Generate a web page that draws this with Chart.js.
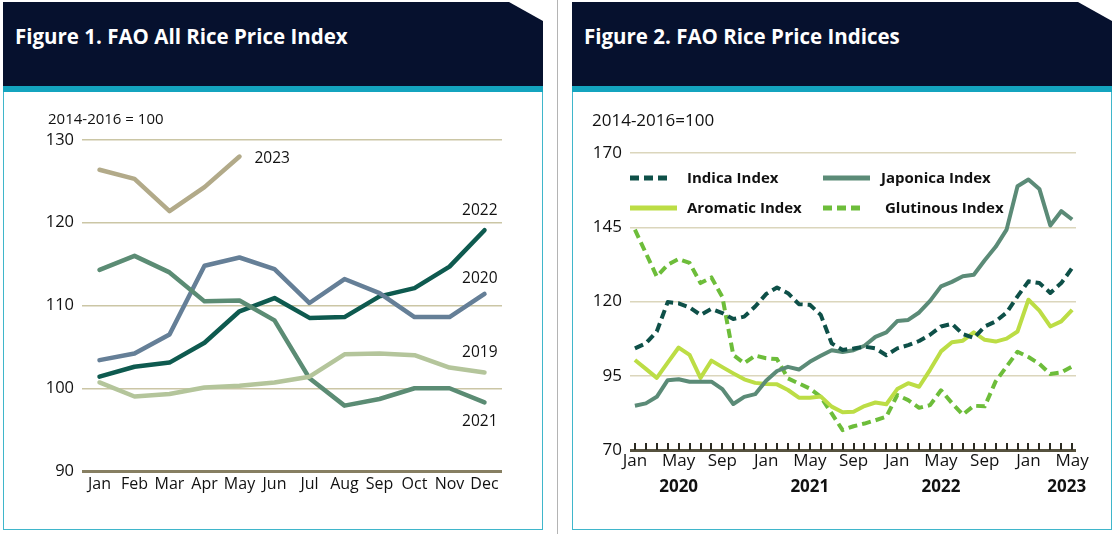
<!DOCTYPE html>
<html>
<head>
<meta charset="utf-8">
<script src="https://cdn.jsdelivr.net/npm/chart.js@4.4.1/dist/chart.umd.min.js"></script>
<style>
  body { margin: 0; width: 1115px; height: 534px; background: #fff; position: relative; overflow: hidden; font-family: 'Open Sans', sans-serif; color: #111; }
  .head { position: absolute; top: 2px; height: 84px; background: #06112e;
          clip-path: polygon(0 0, calc(100% - 34px) 0, 100% 19px, 100% 100%, 0 100%); }
  .head span { position: absolute; left: 12px; top: 20px; color: #fff; font-size: 20.5px; font-weight: 700; line-height: 28px; }
  .strip { position: absolute; top: 86px; height: 6px; background: #14a4bf; }
  .panel { position: absolute; top: 92px; height: 438px; border: 1.5px solid #3fb6cb; border-top: none; box-sizing: border-box; }
  .sep { position: absolute; left: 557px; top: 0; width: 1px; height: 534px; background: #b4b4b4; }
  .unit { position: absolute; line-height: 20px; white-space: nowrap; }
  canvas { position: absolute; }
</style>
</head>
<body>
<div class="head" style="left:3px;width:540px"><span>Figure 1. FAO All Rice Price Index</span></div>
<div class="strip" style="left:3px;width:540px"></div>
<div class="panel" style="left:3px;width:540px"></div>
<div class="sep"></div>
<div class="head" style="left:572px;width:540px"><span>Figure 2. FAO Rice Price Indices</span></div>
<div class="strip" style="left:572px;width:540px"></div>
<div class="panel" style="left:572px;width:540px"></div>

<canvas id="fig1" width="538" height="436" style="left:4px;top:93px"></canvas>
<canvas id="fig2" width="537" height="436" style="left:573px;top:93px"></canvas>
<div class="unit" style="left:48px;top:108px;font-size:15px">2014-2016 = 100</div>
<div class="unit" style="left:592px;top:110px;font-size:17px">2014-2016=100</div>

<script>
// Figure 1: FAO All Rice Price Index, by year
const months1 = ['Jan', 'Feb', 'Mar', 'Apr', 'May', 'Jun', 'Jul', 'Aug', 'Sep', 'Oct', 'Nov', 'Dec'];
const y2019 = [100.7, 99.0, 99.3, 100.1, 100.3, 100.7, 101.4, 104.1, 104.2, 104.0, 102.5, 101.9];
const y2020 = [103.4, 104.2, 106.5, 114.8, 115.8, 114.4, 110.3, 113.2, 111.5, 108.6, 108.6, 111.4];
const y2021 = [114.3, 116.0, 114.0, 110.5, 110.6, 108.2, 101.2, 97.9, 98.7, 100.0, 100.0, 98.3];
const y2022 = [101.4, 102.6, 103.1, 105.5, 109.3, 110.9, 108.5, 108.6, 111.1, 112.1, 114.7, 119.1];
const y2023 = [126.4, 125.3, 121.4, 124.3, 128.0];
const yTicks1 = [90, 100, 110, 120, 130];

// Figure 2: FAO rice price indices, Jan 2020 - May 2023
const monthNames = ['Jan', 'Feb', 'Mar', 'Apr', 'May', 'Jun', 'Jul', 'Aug', 'Sep', 'Oct', 'Nov', 'Dec'];
const years2 = ['2020', '2021', '2022', '2023'];
const indica = [104.2, 105.9, 109.9, 119.8, 119.4, 118.0, 115.5, 117.5, 116.1, 114.1, 114.9, 118.3, 122.5, 124.7,
  122.8, 119.1, 118.9, 115.5, 105.9, 103.7, 104.2, 104.8, 104.2, 101.9, 104.2, 105.3, 106.7,
  108.8, 111.6, 112.5, 109.0, 107.7, 111.6, 113.3, 116.3, 121.7, 126.8, 126.2, 122.9, 126.2, 131.3];
const japonica = [84.9, 85.7, 87.9, 93.5, 93.8, 93.0, 93.0, 93.0, 90.5, 85.5, 87.9, 88.8, 93.3, 96.6,
  98.0, 97.1, 99.7, 101.7, 103.6, 103.0, 103.6, 105.1, 108.1, 109.6, 113.4, 113.8, 116.3,
  120.2, 125.1, 126.6, 128.5, 129.0, 133.9, 138.4, 144.2, 158.8, 161.1, 157.9, 145.6, 150.4, 147.6];
const aromatic = [100.3, 97.3, 94.3, 99.4, 104.5, 102.0, 94.3, 100.1, 97.9, 95.8, 93.8, 92.6, 92.2, 92.1,
  90.2, 87.6, 87.6, 88.0, 84.6, 82.7, 82.9, 84.8, 86.0, 85.4, 90.5, 92.5, 91.3,
  97.0, 103.2, 106.3, 106.8, 109.6, 107.1, 106.5, 107.5, 109.9, 120.6, 116.9, 111.6, 113.3, 117.2];
const glutinous = [144.2, 136.3, 128.4, 132.4, 134.3, 133.0, 126.2, 128.1, 121.5, 102.0, 99.2, 101.8, 100.9, 100.6,
  94.1, 92.4, 90.7, 87.9, 82.3, 76.7, 78.0, 78.9, 80.0, 81.2, 88.5, 86.8, 84.2,
  85.1, 90.1, 85.8, 81.9, 84.9, 84.7, 93.1, 98.1, 103.1, 101.3, 99.0, 95.6, 96.1, 98.1];
const yTicks2 = [70, 95, 120, 145, 170];

Chart.defaults.font.family = "'Open Sans', sans-serif";
Chart.defaults.color = '#111';

// year labels at the end of each line in figure 1
const endTags = {
  '2023': { at: 4, dx: 15, dy: 2, align: 'left' },
  '2022': { at: 11, dx: 13, dy: -20, align: 'right' },
  '2020': { at: 11, dx: 13, dy: -15, align: 'right' },
  '2019': { at: 11, dx: 13, dy: -20, align: 'right' },
  '2021': { at: 11, dx: 13, dy: 19, align: 'right' }
};
const tagPlugin = {
  id: 'tags',
  afterDatasetsDraw(chart) {
    const ctx = chart.ctx;
    const xs = chart.scales.x, ys = chart.scales.y;
    ctx.save();
    ctx.font = "15.5px 'Open Sans', sans-serif";
    ctx.fillStyle = '#111';
    ctx.textBaseline = 'middle';
    chart.data.datasets.forEach(ds => {
      const t = endTags[ds.label];
      if (!t) return;
      ctx.textAlign = t.align;
      ctx.fillText(ds.label, xs.getPixelForValue(t.at) + t.dx, ys.getPixelForValue(ds.data[t.at]) + t.dy);
    });
    ctx.restore();
  }
};

function line(label, data, color) {
  return { label, data, borderColor: color, borderWidth: 4.5, pointRadius: 0, tension: 0,
    borderJoinStyle: 'round', borderCapStyle: 'round' };
}

new Chart(document.getElementById('fig1'), {
  type: 'line',
  data: {
    labels: months1,
    datasets: [
      line('2019', y2019, '#b4c59b'),
      line('2021', y2021, '#5b8c74'),
      line('2020', y2020, '#657f97'),
      line('2022', y2022, '#0e5a4f'),
      line('2023', y2023, '#b2aa89')
    ]
  },
  options: {
    responsive: false, animation: false, devicePixelRatio: 1,
    layout: { padding: { left: 38, right: 40, top: 47, bottom: 18 } },
    plugins: { legend: { display: false }, tooltip: { enabled: false } },
    scales: {
      x: {
        offset: true,
        grid: { display: false, drawTicks: false },
        border: { display: false },
        ticks: { padding: 4, font: { size: 16 }, maxRotation: 0, autoSkip: false },
        afterFit: s => { s.height = 40; }
      },
      y: {
        min: 90, max: 130,
        afterBuildTicks: s => { s.ticks = yTicks1.map(v => ({ value: v })); },
        grid: {
          drawTicks: false,
          color: c => c.tick.value === 90 ? '#877f62' : '#cbc6a5',
          lineWidth: c => c.tick.value === 90 ? 3 : 1.5
        },
        border: { display: false },
        ticks: { padding: 8, font: { size: 16.5 } },
        afterFit: s => { s.width = 40; }
      }
    }
  },
  plugins: [tagPlugin]
});

// figure 2: month ticks, year row and two-column legend
const fig2Plugin = {
  id: 'fig2extras',
  afterDraw(chart) {
    const ctx = chart.ctx;
    const xs = chart.scales.x;
    const area = chart.chartArea;
    ctx.save();
    ctx.strokeStyle = '#2b2a22';
    ctx.lineWidth = 2;
    for (let i = 0; i < indica.length; i++) {
      const x = Math.round(xs.getPixelForValue(i));
      ctx.beginPath();
      ctx.moveTo(x, area.bottom - 7);
      ctx.lineTo(x, area.bottom);
      ctx.stroke();
    }
    ctx.fillStyle = '#111';
    ctx.font = "bold 17px 'Open Sans', sans-serif";
    ctx.textAlign = 'center';
    ctx.textBaseline = 'middle';
    years2.forEach((yr, k) => {
      const at = Math.min(4 + 12 * k, indica.length - 1.5);
      ctx.fillText(yr, xs.getPixelForValue(at), area.bottom + 37);
    });

    // legend
    const cols = [{ x: 0, tx: 57 }, { x: 193, tx: 251 }];
    ctx.font = "bold 15px 'Open Sans', sans-serif";
    ctx.textAlign = 'left';
    chart.data.datasets.forEach((ds, k) => {
      const col = cols[k % 2];
      const y = area.top + 25 + Math.floor(k / 2) * 30;
      const x0 = area.left + col.x;
      const len = ds.borderDash ? 41 : 47;
      ctx.strokeStyle = ds.borderColor;
      ctx.lineWidth = 5;
      ctx.lineCap = 'butt';
      ctx.setLineDash(ds.borderDash || []);
      ctx.beginPath();
      ctx.moveTo(x0, y);
      ctx.lineTo(x0 + len, y);
      ctx.stroke();
      ctx.setLineDash([]);
      ctx.fillText(ds.label, area.left + col.tx + (k === 3 ? 4 : 0), y + 1);
    });
    ctx.restore();
  }
};

function line2(label, data, color, dashed) {
  return { label, data, borderColor: color, borderWidth: 4, pointRadius: 0, tension: 0,
    borderJoinStyle: 'round', borderDash: dashed ? [9, 5] : undefined };
}

const idx2 = indica.map((v, i) => i);

new Chart(document.getElementById('fig2'), {
  type: 'line',
  data: {
    labels: idx2,
    datasets: [
      line2('Indica Index', indica, '#0e5048', true),
      line2('Japonica Index', japonica, '#5b8b77', false),
      line2('Aromatic Index', aromatic, '#bcdd45', false),
      line2('Glutinous Index', glutinous, '#6dbd3a', true)
    ]
  },
  options: {
    responsive: false, animation: false, devicePixelRatio: 1,
    layout: { padding: { left: 12, right: 34, top: 60, bottom: 29 } },
    plugins: { legend: { display: false }, tooltip: { enabled: false } },
    scales: {
      x: {
        type: 'linear', min: -0.45, max: 40.35,
        afterBuildTicks: s => { s.ticks = idx2.map(i => ({ value: i })); },
        grid: { display: false, drawTicks: false },
        border: { display: false },
        ticks: {
          autoSkip: false, maxRotation: 0, padding: 1, font: { size: 17 },
          callback: v => (v % 4 === 0) ? monthNames[v % 12] : ''
        },
        afterFit: s => { s.height = 50; }
      },
      y: {
        min: 70, max: 170,
        afterBuildTicks: s => { s.ticks = yTicks2.map(v => ({ value: v })); },
        grid: {
          drawTicks: false,
          color: c => c.tick.value === 70 ? '#56523f' : '#dbd6bc',
          lineWidth: c => c.tick.value === 70 ? 3 : 1.5
        },
        border: { display: false },
        ticks: { padding: 8, font: { size: 17 } },
        afterFit: s => { s.width = 45; }
      }
    }
  },
  plugins: [fig2Plugin]
});
</script>
</body>
</html>
